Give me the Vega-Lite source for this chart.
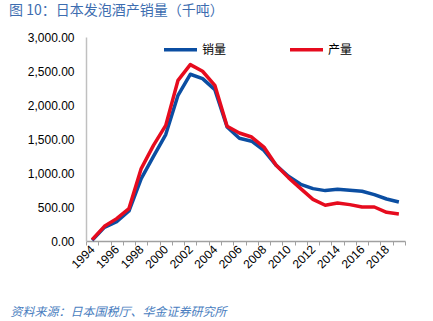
{
  "$schema": "https://vega.github.io/schema/vega-lite/v6.json",
  "autosize": "none",
  "width": 319,
  "height": 204,
  "padding": {"left": 86, "top": 37, "right": 28, "bottom": 80},
  "background": "white",
  "title": {
    "text": "图 10：日本发泡酒产销量（千吨）",
    "anchor": "start",
    "frame": "group",
    "dx": -77,
    "offset": 13,
    "fontSize": 14,
    "fontWeight": "normal",
    "font": "Noto Sans CJK SC",
    "color": "#3D6DB0"
  },
  "data": {
    "values": [
      {"year": "1994", "series": "销量", "value": 10},
      {"year": "1995", "series": "销量", "value": 200},
      {"year": "1996", "series": "销量", "value": 285},
      {"year": "1997", "series": "销量", "value": 441},
      {"year": "1998", "series": "销量", "value": 918},
      {"year": "1999", "series": "销量", "value": 1245},
      {"year": "2000", "series": "销量", "value": 1565},
      {"year": "2001", "series": "销量", "value": 2143},
      {"year": "2002", "series": "销量", "value": 2452},
      {"year": "2003", "series": "销量", "value": 2388},
      {"year": "2004", "series": "销量", "value": 2226},
      {"year": "2005", "series": "销量", "value": 1676},
      {"year": "2006", "series": "销量", "value": 1510},
      {"year": "2007", "series": "销量", "value": 1468},
      {"year": "2008", "series": "销量", "value": 1334},
      {"year": "2009", "series": "销量", "value": 1113},
      {"year": "2010", "series": "销量", "value": 951},
      {"year": "2011", "series": "销量", "value": 834},
      {"year": "2012", "series": "销量", "value": 770},
      {"year": "2013", "series": "销量", "value": 741},
      {"year": "2014", "series": "销量", "value": 760},
      {"year": "2015", "series": "销量", "value": 745},
      {"year": "2016", "series": "销量", "value": 731},
      {"year": "2017", "series": "销量", "value": 682},
      {"year": "2018", "series": "销量", "value": 618},
      {"year": "2019", "series": "销量", "value": 574},
      {"year": "1994", "series": "产量", "value": 20},
      {"year": "1995", "series": "产量", "value": 216},
      {"year": "1996", "series": "产量", "value": 329},
      {"year": "1997", "series": "产量", "value": 476},
      {"year": "1998", "series": "产量", "value": 1065},
      {"year": "1999", "series": "产量", "value": 1407},
      {"year": "2000", "series": "产量", "value": 1700},
      {"year": "2001", "series": "产量", "value": 2363},
      {"year": "2002", "series": "产量", "value": 2594},
      {"year": "2003", "series": "产量", "value": 2496},
      {"year": "2004", "series": "产量", "value": 2290},
      {"year": "2005", "series": "产量", "value": 1687},
      {"year": "2006", "series": "产量", "value": 1588},
      {"year": "2007", "series": "产量", "value": 1529},
      {"year": "2008", "series": "产量", "value": 1382},
      {"year": "2009", "series": "产量", "value": 1113},
      {"year": "2010", "series": "产量", "value": 932},
      {"year": "2011", "series": "产量", "value": 770},
      {"year": "2012", "series": "产量", "value": 613},
      {"year": "2013", "series": "产量", "value": 525},
      {"year": "2014", "series": "产量", "value": 559},
      {"year": "2015", "series": "产量", "value": 535},
      {"year": "2016", "series": "产量", "value": 500},
      {"year": "2017", "series": "产量", "value": 500},
      {"year": "2018", "series": "产量", "value": 422},
      {"year": "2019", "series": "产量", "value": 397}
    ]
  },
  "mark": {"type": "line", "strokeWidth": 3.5, "strokeJoin": "round"},
  "encoding": {
    "x": {
      "field": "year",
      "type": "ordinal",
      "scale": {"type": "band", "paddingInner": 0, "paddingOuter": 0},
      "axis": {
        "title": "资料来源：日本国税厅、华金证券研究所",
        "titleAnchor": "start",
        "titleX": -76,
        "titleY": 70,
        "titleAlign": "left",
        "titleBaseline": "middle",
        "titleFont": "Noto Sans CJK SC",
        "titleFontSize": 12,
        "titleFontWeight": "normal",
        "titleFontStyle": "italic",
        "titleColor": "#4A7EC0",
        "labelExpr": "toNumber(datum.value) % 2 == 0 ? datum.label : ''",
        "labelAngle": -45,
        "labelAlign": "right",
        "labelBaseline": "middle",
        "labelFont": "Liberation Sans",
        "labelFontSize": 12,
        "labelColor": "#000000",
        "labelPadding": 2,
        "tickBand": "extent",
        "tickSize": 4,
        "tickColor": "#A0A0A0",
        "domainColor": "#A0A0A0",
        "domainWidth": 1.5,
        "grid": false
      }
    },
    "y": {
      "field": "value",
      "type": "quantitative",
      "scale": {"domain": [0, 3000]},
      "axis": {
        "title": null,
        "values": [0, 500, 1000, 1500, 2000, 2500, 3000],
        "format": ",.2f",
        "labelFont": "Liberation Sans",
        "labelFontSize": 12,
        "labelColor": "#000000",
        "labelPadding": 12,
        "ticks": false,
        "domainColor": "#C0C0C0",
        "domainWidth": 1.5,
        "grid": false
      }
    },
    "color": {
      "field": "series",
      "type": "nominal",
      "sort": ["销量", "产量"],
      "scale": {"domain": ["销量", "产量"], "range": ["#0B4EA2", "#E60B1E"]},
      "legend": {
        "title": null,
        "orient": "none",
        "direction": "horizontal",
        "legendX": 76,
        "legendY": -6,
        "symbolType": "stroke",
        "symbolSize": 1089,
        "symbolStrokeWidth": 3.5,
        "labelFont": "Noto Sans CJK SC",
        "labelFontSize": 12,
        "labelColor": "#000000",
        "labelOffset": 3,
        "columnPadding": 56
      }
    }
  },
  "config": {"view": {"stroke": null}}
}
